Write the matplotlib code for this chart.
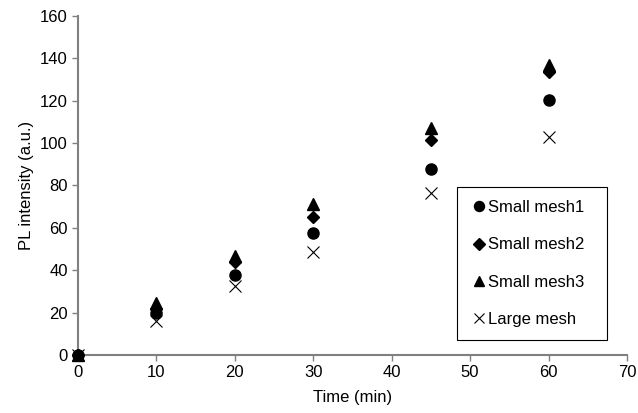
import matplotlib as mpl
mpl.rcParams['font.family'] = ['Liberation Sans', 'DejaVu Sans']
import matplotlib.pyplot as plt

# PL intensity growth over time for each mesh type
time = [0, 10, 20, 30, 45, 60]
small_mesh1 = [0, 19.8, 38, 57.5, 88, 120.5]
small_mesh2 = [0, 22, 44, 65, 101.5, 133.5]
small_mesh3 = [0, 24.5, 47, 71.5, 107, 137]
large_mesh = [0, 16, 32.7, 48.6, 76.4, 102.8]

fig = plt.figure(figsize=(6.38, 4.13), dpi=100)
ax = fig.add_axes([0.1215, 0.1397, 0.8615, 0.8223])

style = dict(color='black', ls='none', clip_on=False, zorder=3)
ax.plot(time, small_mesh1, marker='o', ms=8, label='Small mesh1', **style)
ax.plot(time, small_mesh2, marker='D', ms=6.5, label='Small mesh2', **style)
ax.plot(time, small_mesh3, marker='^', ms=8.5, label='Small mesh3', **style)
ax.plot(time, large_mesh, marker='x', ms=8, mew=0.8, label='Large mesh', **style)

ax.set_xlim(0, 70)
ax.set_ylim(0, 160)
ax.set_xticks(range(0, 71, 10))
ax.set_yticks(range(0, 161, 20))

for side in ('top', 'right'):
    ax.spines[side].set_visible(False)
for side in ('left', 'bottom'):
    ax.spines[side].set_color('#808080')
    ax.spines[side].set_linewidth(1.5)
    ax.spines[side].set_zorder(1)
ax.tick_params(direction='out', color='#808080', length=4, width=1,
               labelsize=12, pad=3)

ax.set_xlabel('Time (min)', fontsize=12, labelpad=7)
ax.set_ylabel('PL intensity (a.u.)', fontsize=12, labelpad=4)

leg = ax.legend(loc='lower left', bbox_to_anchor=(0.691, 0.045, 0.273, 0.451),
                mode='expand', fontsize=12, frameon=True, fancybox=False,
                edgecolor='black', framealpha=1, labelspacing=1.33,
                handletextpad=0.05, handlelength=1.0, borderpad=0.8,
                borderaxespad=0, markerscale=0.9)
leg.get_frame().set_linewidth(0.8)

fig.savefig('out.png', dpi=100)
